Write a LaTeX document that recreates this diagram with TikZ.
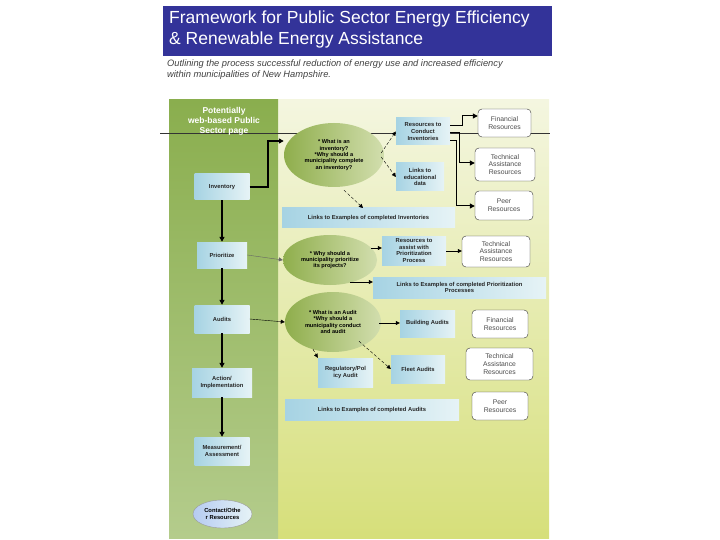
\documentclass[tikz,border=0pt]{standalone}
\usepackage{fontspec}
\setmainfont{Liberation Sans}
\usetikzlibrary{arrows.meta,shapes.geometric}
\definecolor{titleblue}{HTML}{333399}
\definecolor{panelg}{HTML}{8AAE4E}
\definecolor{panelgl}{HTML}{B4CC8C}
\definecolor{bgtop}{HTML}{F4F6E0}
\definecolor{bgbot}{HTML}{D6DF7A}
\definecolor{boxa}{HTML}{A6D3E3}
\definecolor{boxb}{HTML}{E6F3F6}
\definecolor{ella}{HTML}{8FAE4C}
\definecolor{ellb}{HTML}{D2DEAE}
\begin{document}
\begin{tikzpicture}[x=1pt,y=-1pt,
  bbox/.style={draw=none,left color=boxa,right color=boxb,align=center,font=\bfseries\fontsize{5.8}{6.6}\selectfont,inner sep=1pt,text=black!85},
  rbox/.style={draw=black!80,fill=white,rounded corners=4pt,align=center,font=\fontsize{6.8}{7.8}\selectfont,text=black!70,inner sep=1pt},
  ell/.style={ellipse,draw=none,left color=ella,right color=ellb,align=center,font=\bfseries\fontsize{5.6}{6.4}\selectfont,inner sep=0pt},
  thick arr/.style={-{Triangle[length=5pt,width=5pt]},line width=1.4pt},
  thin arr/.style={-{Triangle[length=4pt,width=4pt]},line width=0.4pt},
]
\useasboundingbox (0,0) rectangle (720,540);
% title
\node[fill=titleblue,minimum width=389pt,minimum height=50pt,anchor=north west,inner sep=0pt] (title) at (163,6) {};
\node[anchor=north west,text=white,align=left,font=\fontsize{17.5}{21}\selectfont,inner sep=0pt] (ttext) at (169,11) {Framework for Public Sector Energy Efficiency\\ \& Renewable Energy Assistance};
\node[anchor=north west,align=left,font=\itshape\fontsize{9.3}{11}\selectfont,text=black!75,inner sep=0pt] (sub) at (167,60) {Outlining the process successful reduction of energy use and increased efficiency\\within municipalities of New Hampshire.};
% backgrounds
\shade[top color=bgtop,bottom color=bgbot] (278,100) rectangle (549,538);
\shade[top color=panelg,bottom color=panelgl] (169,100) rectangle (278,538);
\draw[line width=0.4pt,black!80] (160,133) -- (550,133);
\node[text=white,font=\bfseries\fontsize{8.5}{10}\selectfont,align=center] (hdr) at (224,121) {Potentially\\web-based Public\\Sector  page};
% left column
\node[bbox,minimum width=55pt,minimum height=26pt] (inv) at (222,187) {Inventory};
\node[bbox,minimum width=50pt,minimum height=26pt] (pri) at (222,255) {Prioritize};
\node[bbox,minimum width=55pt,minimum height=28pt] (aud) at (222,319) {Audits};
\node[bbox,minimum width=60pt,minimum height=29pt] (act) at (222,382.5) {Action/\\Implementation};
\node[bbox,minimum width=55pt,minimum height=28pt] (mea) at (222,451) {Measurement/\\Assessment};
\node[ellipse,draw=black!40,left color=boxa!80!blue!60,right color=boxb,minimum width=59pt,minimum height=28pt,inner sep=0pt,align=center,font=\bfseries\fontsize{5.8}{6.6}\selectfont] (con) at (222.5,514) {Contact/Othe\\r Resources};
% ellipses
\node[ell,minimum width=100pt,minimum height=64pt] (e1) at (334,155) {* What is an\\inventory?\\*Why should a\\municipality complete\\an inventory?};
\node[ell,minimum width=94pt,minimum height=50pt] (e2) at (330,260) {* Why should a\\municipality prioritize\\its projects?};
\node[ell,minimum width=96pt,minimum height=60pt] (e3) at (333,322) {* What is an Audit\\*Why should a\\municipality conduct\\and audit};
% inventory branch
\node[bbox,minimum width=54pt,minimum height=27pt] (rci) at (423,131.5) {Resources to\\Conduct\\Inventories};
\node[bbox,minimum width=48pt,minimum height=28pt] (led) at (420,177) {Links to\\educational\\data};
\node[rbox,minimum width=53pt,minimum height=28pt] (fin1) at (504.5,123) {Financial\\Resources};
\node[rbox,minimum width=60pt,minimum height=33pt] (tec1) at (505,164.5) {Technical\\Assistance\\Resources};
\node[rbox,minimum width=58pt,minimum height=29pt] (peer1) at (504,205.5) {Peer\\Resources};
\node[bbox,minimum width=173pt,minimum height=20pt] (lei) at (368.5,218) {Links to Examples of completed Inventories};
% prioritize branch
\node[bbox,minimum width=64pt,minimum height=29pt] (rap) at (414,250.5) {Resources to\\assist with\\Prioritization\\Process};
\node[rbox,minimum width=68pt,minimum height=31pt] (tec2) at (496,251.5) {Technical\\Assistance\\Resources};
\node[bbox,minimum width=173pt,minimum height=21pt] (lep) at (459.5,287.5) {Links to Examples of completed Prioritization\\Processes};
% audit branch
\node[bbox,minimum width=55pt,minimum height=27pt] (bau) at (427.5,323.5) {Building Audits};
\node[bbox,minimum width=54pt,minimum height=28pt] (fau) at (418,369) {Fleet Audits};
\node[bbox,minimum width=55pt,minimum height=29pt] (rpa) at (345.5,372.5) {Regulatory/Pol\\icy Audit};
\node[rbox,minimum width=56pt,minimum height=28pt] (fin3) at (500,324) {Financial\\Resources};
\node[rbox,minimum width=67pt,minimum height=32pt] (tec3) at (499.5,364) {Technical\\Assistance\\Resources};
\node[rbox,minimum width=56pt,minimum height=28pt] (peer3) at (500,406) {Peer\\Resources};
\node[bbox,minimum width=174pt,minimum height=21pt] (lea) at (372,409.5) {Links to Examples of completed Audits};
% connectors
\draw[thick arr] (inv.east) -- (268,187) -- (268,141) -- (e1.west|-0,141);
\draw[thick arr] (inv) -- (pri);
\draw[thick arr] (pri) -- (aud);
\draw[thick arr] (aud) -- (act);
\draw[thick arr] (act) -- (mea);
\draw[thin arr,densely dashed] (e1.east) ++(-3,-2) -- (rci.west);
\draw[thin arr,densely dashed] (e1.east) ++(-3,2) -- (led.west);
\draw[thin arr,densely dashed] (e1.south) ++(10,3) -- (363,208);
\draw[thick arr,line width=1pt] (rci.east|-0,126) -- (462,126) -- (462,116) -- (fin1.west|-0,116);
\draw[thick arr,line width=1pt] (rci.east|-0,133) -- (459,133) -- (459,163) -- (tec1.west|-0,163);
\draw[thick arr,line width=1pt] (rci.east|-0,141) -- (456,141) -- (456,206) -- (peer1.west|-0,206);
\draw[thin arr,black!60] (pri.east) -- (e2.west);
\draw[thin arr] (e2.east|-0,248) ++(-6,0) -- (rap.west|-0,248);
\draw[thin arr] (rap.east|-0,251) -- (tec2.west|-0,251);
\draw[thin arr] (350,282) -- (lep.west|-0,282);
\draw[thin arr] (aud.east) -- (e3.west);
\draw[thin arr] (e3.east|-0,323) ++(-2,0) -- (bau.west|-0,323);
\draw[thin arr,densely dashed] (e3.south east) ++(-8,-2) -- (fau.west);
\draw[thin arr,densely dashed] (e3.south) ++(-20,-3) -- (rpa.north west);
\end{tikzpicture}
\end{document}
